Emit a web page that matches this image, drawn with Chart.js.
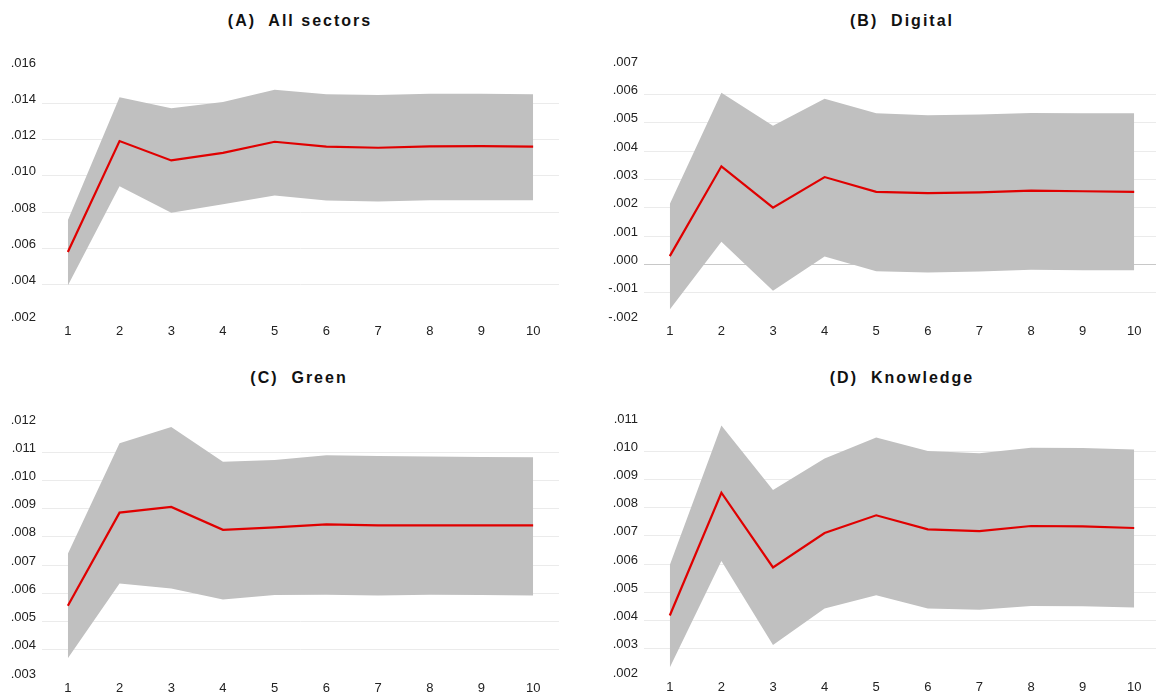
<!DOCTYPE html>
<html>
<head>
<meta charset="utf-8">
<script src="https://cdn.jsdelivr.net/npm/chart.js@4.4.0/dist/chart.umd.min.js"></script>
<style>
  html, body { margin: 0; padding: 0; background: #fff; overflow: hidden; }
  body { width: 1156px; height: 698px; position: relative; }
  .panel { position: absolute; }
  .title {
    position: absolute; transform: translate(-50%, -50%);
    font: bold 16px "Liberation Sans", Arial, sans-serif;
    letter-spacing: 2px; white-space: pre; color: #111;
  }
</style>
</head>
<body>
<div class="title" style="left:300px; top:21px;">(A)  All sectors</div>
<div class="title" style="left:902px; top:21px;">(B)  Digital</div>
<div class="title" style="left:299px; top:378px;">(C)  Green</div>
<div class="title" style="left:902px; top:378px;">(D)  Knowledge</div>

<canvas id="chartA" class="panel" style="left:0px; top:0px;"></canvas>
<canvas id="chartB" class="panel" style="left:578px; top:0px;"></canvas>
<canvas id="chartC" class="panel" style="left:0px; top:350px;"></canvas>
<canvas id="chartD" class="panel" style="left:578px; top:350px;"></canvas>

<script>
// horizon periods
const periods = ['1', '2', '3', '4', '5', '6', '7', '8', '9', '10'];

// (A) All sectors
const allMid   = [0.0058, 0.01192, 0.01085, 0.01127, 0.01188, 0.01161, 0.01155, 0.01162, 0.01164, 0.01161];
const allUpper = [0.00755, 0.01433, 0.01372, 0.01407, 0.01474, 0.0145, 0.01446, 0.01452, 0.01452, 0.0145];
const allLower = [0.00396, 0.00943, 0.00796, 0.00844, 0.00892, 0.00864, 0.00859, 0.00866, 0.00866, 0.00866];

// (B) Digital
const digitalMid   = [0.00029, 0.00346, 0.002, 0.00308, 0.00256, 0.00251, 0.00254, 0.0026, 0.00258, 0.00256];
const digitalUpper = [0.00213, 0.00606, 0.00489, 0.00584, 0.00533, 0.00526, 0.00529, 0.00534, 0.00533, 0.00533];
const digitalLower = [-0.00159, 0.0008, -0.00093, 0.00028, -0.00024, -0.00029, -0.00025, -0.00019, -0.00021, -0.00021];

// (C) Green
const greenMid   = [0.00556, 0.00886, 0.00906, 0.00825, 0.00834, 0.00844, 0.00841, 0.00841, 0.00841, 0.00841];
const greenUpper = [0.0074, 0.01132, 0.01189, 0.01066, 0.01072, 0.01089, 0.01087, 0.01085, 0.01083, 0.01082];
const greenLower = [0.0037, 0.00635, 0.00617, 0.00578, 0.00594, 0.00595, 0.00592, 0.00595, 0.00594, 0.00592];

// (D) Knowledge
const knowMid   = [0.00418, 0.00853, 0.00588, 0.0071, 0.00773, 0.00723, 0.00717, 0.00735, 0.00734, 0.00728];
const knowUpper = [0.00597, 0.01091, 0.00863, 0.00974, 0.01049, 0.01001, 0.00993, 0.01012, 0.01011, 0.01006];
const knowLower = [0.00234, 0.00611, 0.00313, 0.00443, 0.0049, 0.00443, 0.00438, 0.00452, 0.00451, 0.00446];

// y axis ranges [min, max, step]
const yRangeA = [0.002, 0.016, 0.002];
const yRangeB = [-0.002, 0.007, 0.001];
const yRangeC = [0.003, 0.012, 0.001];
const yRangeD = [0.002, 0.011, 0.001];

const FONT = '"Liberation Sans", Arial, sans-serif';

function fmtTick(v) {
  return v.toFixed(3).replace(/^(-?)0\./, '$1.');
}

function makeChart(id, mid, upper, lower, range, box) {
  const canvas = document.getElementById(id);
  canvas.width = box.w;
  canvas.height = box.h;
  canvas.style.width = box.w + 'px';
  canvas.style.height = box.h + 'px';

  return new Chart(canvas.getContext('2d'), {
    type: 'line',
    data: {
      labels: periods,
      datasets: [
        {
          data: mid,
          borderColor: '#e00000',
          borderWidth: 2.2,
          pointRadius: 0,
          fill: false,
          tension: 0,
        },
        {
          data: upper,
          borderWidth: 0,
          borderColor: 'rgba(0,0,0,0)',
          backgroundColor: '#c0c0c0',
          pointRadius: 0,
          fill: '+1',
          tension: 0,
        },
        {
          data: lower,
          borderWidth: 0,
          borderColor: 'rgba(0,0,0,0)',
          pointRadius: 0,
          fill: false,
          tension: 0,
        },
      ],
    },
    options: {
      responsive: false,
      animation: false,
      layout: { padding: { top: box.top, right: box.right, bottom: 0, left: 0 } },
      plugins: {
        legend: { display: false },
        tooltip: { enabled: false },
      },
      scales: {
        x: {
          offset: true,
          grid: { display: false, drawTicks: false },
          border: { display: false },
          ticks: { color: '#222', font: { family: FONT, size: 13 }, padding: 3, maxRotation: 0 },
          afterFit: (scale) => { scale.height = 22; },
        },
        y: {
          min: range[0],
          max: range[1],
          border: { display: false },
          grid: {
            drawTicks: false,
            lineWidth: 1,
            color: (ctx) => {
              const n = ctx.scale.ticks.length;
              if (ctx.index === 0 || ctx.index === n - 1) return 'rgba(0,0,0,0)';
              if (Math.abs(ctx.tick.value) < 1e-9) return '#c8c8c8';
              return '#ebebeb';
            },
          },
          ticks: {
            stepSize: range[2],
            color: '#222',
            font: { family: FONT, size: 13 },
            padding: 6,
            labelOffset: -4,
            callback: (v) => fmtTick(v),
          },
          afterFit: (scale) => { scale.width = box.axisW; },
        },
      },
    },
  });
}

makeChart('chartA', allMid, allUpper, allLower, yRangeA, { w: 600, h: 343, top: 67, right: 41, axisW: 42 });
makeChart('chartB', digitalMid, digitalUpper, digitalLower, yRangeB, { w: 600, h: 343, top: 66, right: 18, axisW: 66 });
makeChart('chartC', greenMid, greenUpper, greenLower, yRangeC, { w: 600, h: 350, top: 74, right: 41, axisW: 42 });
makeChart('chartD', knowMid, knowUpper, knowLower, yRangeD, { w: 600, h: 349, top: 73, right: 18, axisW: 66 });
</script>
</body>
</html>
